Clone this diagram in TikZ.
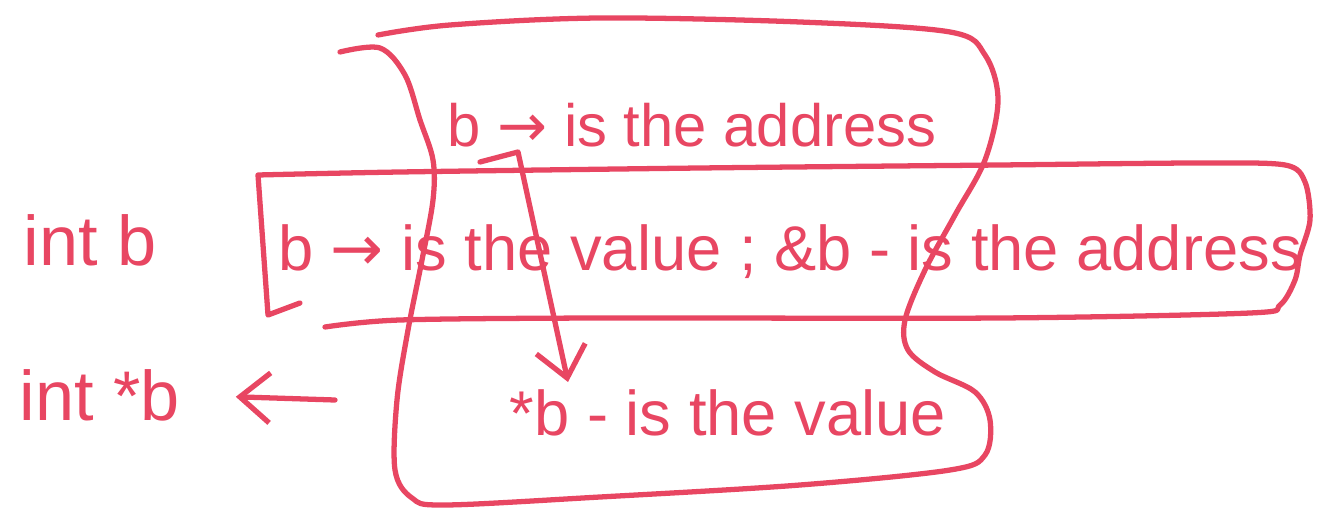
\documentclass[tikz,border=0pt]{standalone}
\usepackage{fontspec}
\setmainfont{Liberation Sans}
\newfontfamily\arrowfont{DejaVu Sans}
\usepackage{xcolor}
\definecolor{marker}{RGB}{232,70,98}
\usepackage{tikz}
\usetikzlibrary{positioning, arrows.meta, calc}
\newcommand{\gives}{{\arrowfont →}}

\begin{document}
\begin{tikzpicture}[
  ink/.style={draw=marker, line width=1.5pt, line cap=round, line join=round},
  note/.style={text=marker, font=\fontsize{17}{20}\selectfont, inner sep=0pt},
  decl/.style={text=marker, font=\fontsize{20}{24}\selectfont, inner sep=0pt},
  barb/.style={-{Straight Barb[length=3mm, width=5mm, line width=1.5pt]}},
]
\useasboundingbox (0, 0) rectangle (13.26, -5.26);

% Declarations
\node[decl] (intb) at (0.90, -2.40) {int b};
\node[decl] (intp) at (1.00, -3.95) {int *b};

% Statements
\node[note] (addr) at (6.92, -1.25) {b \gives{} is the address};
\node[note, font=\fontsize{18}{21}\selectfont] (both) at (7.90, -2.52)
  {b \gives{} is the value ; \&b - is the address};
\node[note, font=\fontsize{18}{21}\selectfont] (val) at (7.28, -4.13) {*b - is the value};

% Box round the middle line
\draw[ink] plot[smooth, tension=0.4] coordinates {
  (3.00, -3.03) (2.68, -3.15)} -- (2.58, -1.75)
  plot[smooth, tension=0.5] coordinates {
  (2.58, -1.75) (4.00, -1.72) (7.00, -1.68) (10.00, -1.65) (12.00, -1.63)
  (12.85, -1.65) (13.05, -1.82) (13.10, -2.20) (13.00, -2.55) (12.95, -2.80)
  (12.80, -3.05) (12.50, -3.13) (10.00, -3.18) (6.00, -3.18) (4.00, -3.20)
  (3.25, -3.27)};

% Loop round the b lines
\draw[ink] plot[smooth, tension=0.55] coordinates {
  (3.40, -0.52) (3.80, -0.48) (4.05, -0.75) (4.20, -1.20) (4.33, -1.60)
  (4.33, -2.00) (4.22, -2.60) (4.08, -3.30) (3.97, -4.00) (3.95, -4.70)
  (4.12, -4.98) (4.45, -5.05) (6.00, -4.97) (8.00, -4.85) (9.50, -4.70)
  (9.85, -4.55) (9.90, -4.20) (9.75, -3.92) (9.35, -3.72) (9.08, -3.50)
  (9.05, -3.20) (9.25, -2.70) (9.55, -2.15) (9.85, -1.60) (9.98, -1.00)
  (9.85, -0.55) (9.50, -0.32) (8.00, -0.22) (6.00, -0.18) (4.50, -0.25)
  (3.78, -0.35)};

% From b to *b
\coordinate (tail) at (4.80, -1.62);
\coordinate (bend) at (5.18, -1.52);
\coordinate (tip) at (5.68, -3.82);
\draw[ink, barb] (tail) -- (bend) -- (tip);

% int *b from the loop
\coordinate (from) at (3.35, -4.00);
\draw[ink, barb, shorten >=0.55cm] (from) -- (intp.east);
\end{tikzpicture}
\end{document}
